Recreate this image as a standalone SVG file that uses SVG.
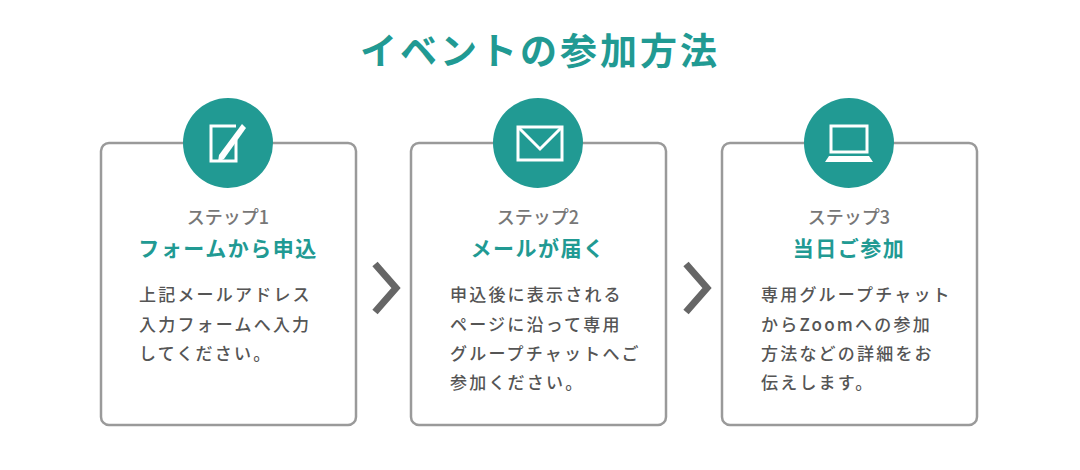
<svg xmlns="http://www.w3.org/2000/svg" width="1080" height="470" viewBox="0 0 1080 470">
<style>
.box{fill:#fff;stroke:#9a9a9a;stroke-width:2.5}
.circ{fill:#219a93}
.ic{fill:none;stroke:#fff;stroke-width:3}
text{font-family:"Noto Sans CJK JP","Noto Sans",sans-serif}
.title{font-size:37px;font-weight:700;fill:#219a93;text-anchor:middle;letter-spacing:3px}
.step{font-size:18px;fill:#777;text-anchor:middle;font-weight:500}
.sub{font-size:21px;font-weight:700;fill:#219a93;text-anchor:middle;letter-spacing:1.5px}
.body{font-size:17px;fill:#555;font-weight:500;letter-spacing:2.2px}
.chev{fill:none;stroke:#666;stroke-width:7}
</style>
<rect width="1080" height="470" fill="#fff"/>
<text class="title" x="540" y="65">イベントの参加方法</text>
<g id="step1">
<rect class="box" x="101" y="143" width="255" height="282" rx="8"/>
<circle class="circ" cx="228" cy="143" r="45"/>
<path class="ic" d="M236 126 H211 V161 H236 V140"/>
<path d="M242 124 L246 128 L224 159 L218 162 L219 155 Z" fill="#fff"/>
<text class="step" x="228" y="224">ステップ1</text>
<text class="sub" x="228" y="256">フォームから申込</text>
<text class="body" x="139" y="301">上記メールアドレス</text>
<text class="body" x="139" y="331">入力フォームへ入力</text>
<text class="body" x="139" y="360">してください。</text>
</g>
<g id="step2">
<rect class="box" x="411" y="143" width="255" height="282" rx="8"/>
<circle class="circ" cx="538" cy="143" r="45"/>
<rect class="ic" x="518" y="127" width="44" height="33"/>
<path class="ic" d="M519 128 L540 149 L561 128"/>
<text class="step" x="538" y="224">ステップ2</text>
<text class="sub" x="538" y="256">メールが届く</text>
<text class="body" x="450" y="301">申込後に表示される</text>
<text class="body" x="450" y="331">ページに沿って専用</text>
<text class="body" x="450" y="360">グループチャットへご</text>
<text class="body" x="450" y="389">参加ください。</text>
</g>
<g id="step3">
<rect class="box" x="722" y="143" width="255" height="282" rx="8"/>
<circle class="circ" cx="849" cy="143" r="45"/>
<rect class="ic" x="831" y="126" width="36" height="26"/>
<path d="M829 156 H869 L873 162 H825 Z" fill="#fff"/>
<text class="step" x="849" y="224">ステップ3</text>
<text class="sub" x="849" y="256">当日ご参加</text>
<text class="body" x="761" y="301">専用グループチャット</text>
<text class="body" x="761" y="331">からZoomへの参加</text>
<text class="body" x="761" y="360">方法などの詳細をお</text>
<text class="body" x="761" y="389">伝えします。</text>
</g>
<g id="connectors">
<path class="chev" d="M375 264 L396 288 L375 312"/>
<path class="chev" d="M686 264 L707 288 L686 312"/>
</g>
</svg>
